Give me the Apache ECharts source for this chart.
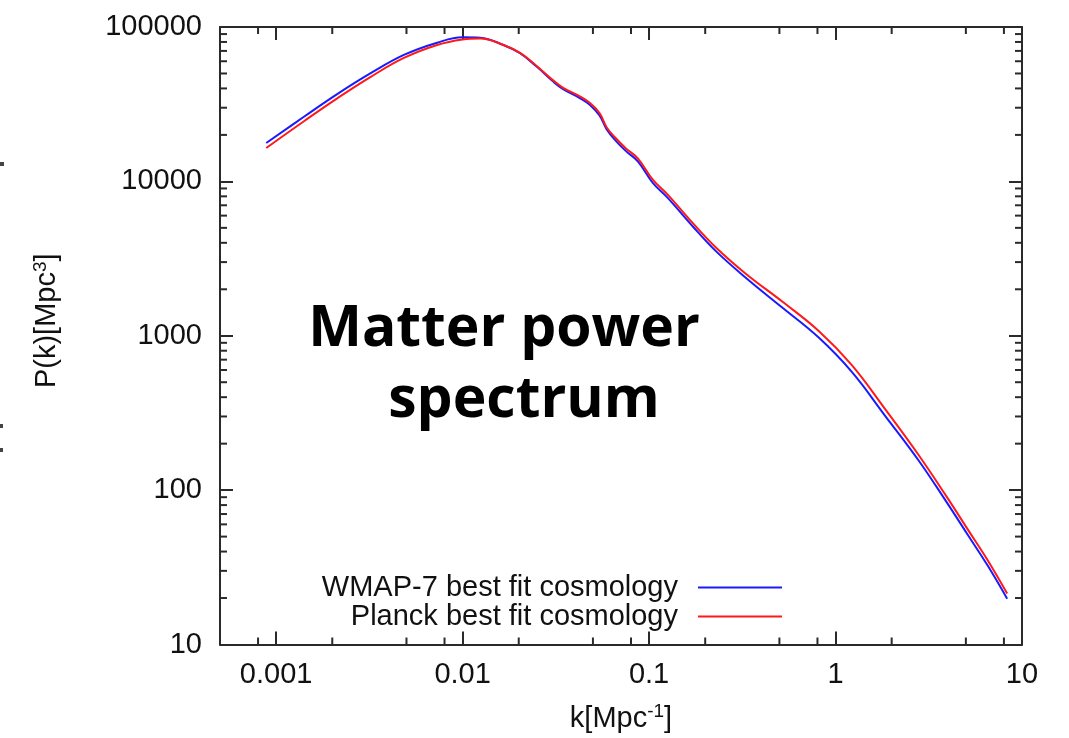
<!DOCTYPE html>
<html><head><meta charset="utf-8">
<script src="https://cdn.jsdelivr.net/npm/echarts@6/dist/echarts.min.js"></script>
<style>html,body{margin:0;padding:0;background:#fff}#c{width:1069px;height:738px}</style>
</head><body><div id="c"></div>
<script>
const kValues = [0.000885, 0.001416, 0.002135, 0.003215, 0.004842, 0.0073, 0.01, 0.01243, 0.01656, 0.02033, 0.02495, 0.0306, 0.0346, 0.04251, 0.04806, 0.05434, 0.0594, 0.06673, 0.07544, 0.08702, 0.1047, 0.1259, 0.1712, 0.2282, 0.33, 0.5157, 0.8125, 1.223, 1.845, 2.778, 3.934, 5.136, 6.569, 8.325];
const wmap7P = [17720, 26330, 36900, 50220, 65920, 79150, 85800, 85270, 76500, 67600, 55400, 44320, 39570, 34620, 31330, 26600, 21600, 18150, 15640, 13480, 9772, 7817, 5122, 3532, 2377, 1529, 973, 583, 303, 156.8, 83.9, 51.0, 32.2, 19.8];
const planckP = [16450, 24620, 34620, 47530, 63050, 76500, 83040, 84270, 76500, 67900, 55980, 45120, 40350, 35550, 32280, 27610, 22250, 18890, 16280, 14090, 10260, 8212, 5388, 3732, 2523, 1671, 1074, 645, 335, 170.2, 91.1, 55.3, 34.9, 21.4];
const seriesNames = ['WMAP-7 best fit cosmology', 'Planck best fit cosmology'];
const xTickLabels = ['0.001', '0.01', '0.1', '1', '10'];
const yTickLabels = ['10', '100', '1000', '10000', '100000'];
const xMinorTicks = [0.0008, 0.002, 0.005, 0.008, 0.02, 0.05, 0.08, 0.2, 0.5, 0.8, 2, 5, 8];
const yMinorTicks = [20, 30, 40, 50, 60, 70, 80, 90, 200, 300, 400, 500, 600, 700, 800, 900, 2000, 3000, 4000, 5000, 6000, 7000, 8000, 9000, 20000, 30000, 40000, 50000, 60000, 70000, 80000, 90000];
const xRange = [0.0005, 10];
const yRange = [10, 100000];

const FONT = '"Liberation Sans", Arial, Helvetica, sans-serif';
const AX = '#2a2a2a';
const MAJOR = 13, MINOR = 7;

function labelFrom(list, firstExp) {
  return function (v) {
    const l = Math.log10(v);
    const e = Math.round(l);
    if (Math.abs(l - e) > 0.01) return '';
    return list[e - firstExp] || '';
  };
}

const chart = echarts.init(document.getElementById('c'), null, {renderer: 'canvas'});

function axisBase(extra) {
  return Object.assign({
    type: 'log', logBase: 10,
    axisLine: {show: true, lineStyle: {color: AX, width: 2}},
    axisTick: {show: true, inside: true, length: MAJOR, lineStyle: {color: AX, width: 2}},
    splitLine: {show: false},
    minorTick: {show: false},
    minorSplitLine: {show: false}
  }, extra);
}

const xMinorSeries = {
  type: 'custom', xAxisIndex: 0, yAxisIndex: 0, clip: false, silent: true, z: 5,
  data: xMinorTicks.map(v => [v, yRange[0]]),
  renderItem: function (params, api) {
    const v = api.value(0);
    const b = api.coord([v, yRange[0]]);
    const t = api.coord([v, yRange[1]]);
    const st = {stroke: AX, lineWidth: 2};
    return {type: 'group', children: [
      {type: 'line', shape: {x1: b[0], y1: b[1], x2: b[0], y2: b[1] - MINOR}, style: st},
      {type: 'line', shape: {x1: t[0], y1: t[1], x2: t[0], y2: t[1] + MINOR}, style: st}
    ]};
  }
};
const yMinorSeries = {
  type: 'custom', xAxisIndex: 0, yAxisIndex: 0, clip: false, silent: true, z: 5,
  data: yMinorTicks.map(v => [xRange[0], v]),
  renderItem: function (params, api) {
    const v = api.value(1);
    const l = api.coord([xRange[0], v]);
    const r = api.coord([xRange[1], v]);
    const st = {stroke: AX, lineWidth: 2};
    return {type: 'group', children: [
      {type: 'line', shape: {x1: l[0], y1: l[1], x2: l[0] + MINOR, y2: l[1]}, style: st},
      {type: 'line', shape: {x1: r[0], y1: r[1], x2: r[0] - MINOR, y2: r[1]}, style: st}
    ]};
  }
};

const legendCommon = {
  orient: 'horizontal', align: 'right', right: 287, itemWidth: 84, itemHeight: 2,
  icon: 'rect', padding: 0, selectedMode: false,
  textStyle: {fontFamily: FONT, fontSize: 29, color: '#111', padding: [0, 15, 0, 0]}
};

chart.setOption({
  animation: false,
  backgroundColor: '#fff',
  grid: {left: 220, right: 47, top: 27, bottom: 92, containLabel: false},
  xAxis: [
    axisBase({
      position: 'bottom', min: xRange[0], max: xRange[1],
      axisLabel: {show: true, fontFamily: FONT, fontSize: 29, color: '#111', margin: 16,
        showMinLabel: false, formatter: labelFrom(xTickLabels, -3)},
      name: 'k[Mpc{sup|-1}]', nameLocation: 'middle', nameGap: 58,
      nameTextStyle: {fontFamily: FONT, fontSize: 29, color: '#111',
        rich: {sup: {fontFamily: FONT, fontSize: 19, color: '#111', verticalAlign: 'top', padding: [0, 0, 13, 0]}}}
    }),
    axisBase({position: 'top', min: xRange[0], max: xRange[1], axisLabel: {show: false}})
  ],
  yAxis: [
    axisBase({
      position: 'left', min: yRange[0], max: yRange[1], interval: 1,
      axisLabel: {show: true, fontFamily: FONT, fontSize: 29, color: '#111', margin: 18,
        formatter: labelFrom(yTickLabels, 1)},
      name: 'P(k)[Mpc{sup|3}]', nameLocation: 'middle', nameGap: 157, nameRotate: 90,
      nameTextStyle: {fontFamily: FONT, fontSize: 29, color: '#111', padding: [0, 0, 0, 30],
        rich: {sup: {fontFamily: FONT, fontSize: 19, color: '#111', verticalAlign: 'top', padding: [0, 0, 13, 0]}}}
    }),
    axisBase({position: 'right', min: yRange[0], max: yRange[1], interval: 1, axisLabel: {show: false}})
  ],
  legend: [
    Object.assign({data: [seriesNames[0]], top: 573}, legendCommon),
    Object.assign({data: [seriesNames[1]], top: 602}, legendCommon)
  ],
  graphic: [
    {type: 'text', x: 504, y: 330, style: {text: 'Matter power', font: 'bold 57px "Open Sans", "DejaVu Sans", sans-serif', fill: '#000', align: 'center', verticalAlign: 'middle'}},
    {type: 'text', x: 524, y: 401, style: {text: 'spectrum', font: 'bold 57px "Open Sans", "DejaVu Sans", sans-serif', fill: '#000', align: 'center', verticalAlign: 'middle'}},
    {type: 'rect', shape: {x: 0, y: 162, width: 4, height: 4}, style: {fill: '#444'}},
    {type: 'rect', shape: {x: 0, y: 424, width: 3, height: 4}, style: {fill: '#444'}},
    {type: 'rect', shape: {x: 0, y: 448, width: 3, height: 4}, style: {fill: '#444'}}
  ],
  series: [
    {
      name: seriesNames[0], type: 'line', xAxisIndex: 0, yAxisIndex: 0,
      data: kValues.map((k, i) => [k, wmap7P[i]]),
      symbol: 'none', smooth: 0.4, lineStyle: {color: '#1a1aff', width: 2}, itemStyle: {color: '#1a1aff'}, z: 3
    },
    {
      name: seriesNames[1], type: 'line', xAxisIndex: 0, yAxisIndex: 0,
      data: kValues.map((k, i) => [k, planckP[i]]),
      symbol: 'none', smooth: 0.4, lineStyle: {color: '#ff1a1a', width: 2}, itemStyle: {color: '#ff1a1a'}, z: 4
    },
    xMinorSeries,
    yMinorSeries
  ]
});
</script>
</body></html>
